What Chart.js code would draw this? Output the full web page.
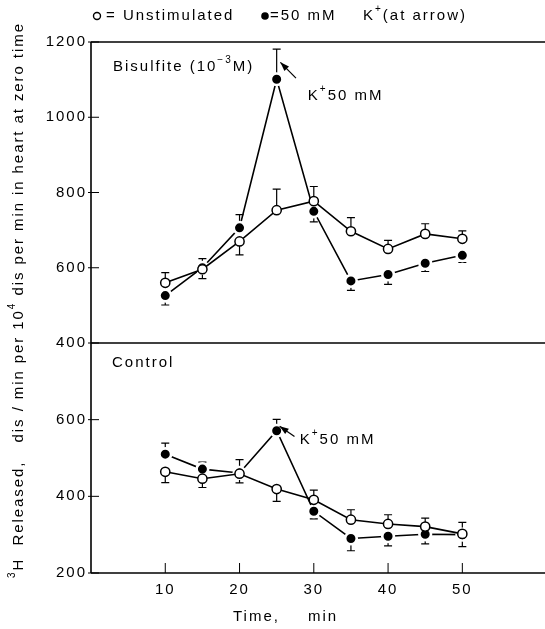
<!DOCTYPE html>
<html><head><meta charset="utf-8">
<script src="https://cdn.jsdelivr.net/npm/chart.js@4"></script>
<style>html,body{margin:0;padding:0;background:#fff;}#wrap{width:545px;height:629px;}</style>
</head><body><div id="wrap"><canvas id="c" width="545" height="629"></canvas></div>
<script>
// ---- data ----
const times = [10, 15, 20, 25, 30, 35, 40, 45, 50];
// Bisulfite panel (top)
const bisUnstim      = [560, 596, 670, 753, 777, 697, 650, 690, 677];
const bisUnstimErrUp = [27, 28, 0, 56, 39, 36, 23, 27, 21];
const bisUnstimErrDn = [0, 25, 36, 0, 0, 0, 0, 0, 0];
const bisK           = [526, 600, 706, 1101, 750, 565, 582, 612, 633];
const bisKErrUp      = [0, 0, 35, 80, 0, 0, 0, 0, 0];
const bisKErrDn      = [25, 0, 0, 0, 28, 25, 26, 22, 19];
// Control panel (bottom)
const ctlUnstim      = [464, 446, 459, 419, 391, 339, 328, 321, 302];
const ctlUnstimErrUp = [0, 0, 37, 0, 25, 26, 24, 22, 30];
const ctlUnstimErrDn = [28, 23, 24, 32, 0, 0, 0, 0, 33];
const ctlK           = [510, 471, 461, 571, 361, 290, 296, 301, 300];
const ctlKErrUp      = [29, 18, 0, 30, 0, 0, 0, 0, 0];
const ctlKErrDn      = [0, 0, 0, 0, 20, 32, 25, 25, 0];
// axes
const xTicks = [10, 20, 30, 40, 50];
const topTicks = [400, 600, 800, 1000, 1200];
const botTicks = [200, 400, 600];

const FONT = '"Liberation Sans", Arial, sans-serif';
const LS = '2px';
const pts = (ys) => times.map((t, i) => ({x: t, y: ys[i]}));

const openStyle = {
  borderColor: '#000', borderWidth: 1.6, backgroundColor: '#fff',
  pointRadius: 4.6, pointBackgroundColor: '#fff', pointBorderColor: '#000',
  pointBorderWidth: 1.5, tension: 0, fill: false
};
const fillStyle = {
  borderColor: '#000', borderWidth: 1.6, backgroundColor: '#000',
  pointRadius: 5.8, pointBackgroundColor: '#000', pointBorderColor: '#fff',
  pointBorderWidth: 2.6, tension: 0, fill: false
};

const datasets = [
  Object.assign({label: 'bisU', data: pts(bisUnstim), yAxisID: 'yTop', errUp: bisUnstimErrUp, errDn: bisUnstimErrDn}, openStyle),
  Object.assign({label: 'ctlU', data: pts(ctlUnstim), yAxisID: 'yBot', errUp: ctlUnstimErrUp, errDn: ctlUnstimErrDn}, openStyle),
  Object.assign({label: 'bisK', data: pts(bisK), yAxisID: 'yTop', errUp: bisKErrUp, errDn: bisKErrDn}, fillStyle),
  Object.assign({label: 'ctlK', data: pts(ctlK), yAxisID: 'yBot', errUp: ctlKErrUp, errDn: ctlKErrDn}, fillStyle)
];

function richText(ctx, parts, x, y, size) {
  let cx = x;
  for (const p of parts) {
    const s = p.sup ? Math.round(size * 0.68) : size;
    ctx.font = s + 'px ' + FONT;
    ctx.fillText(p.t, cx, p.sup ? y - size * 0.42 : y);
    cx += ctx.measureText(p.t).width;
  }
  return cx - x;
}
function richWidth(ctx, parts, size) {
  let w = 0;
  for (const p of parts) {
    const s = p.sup ? Math.round(size * 0.68) : size;
    ctx.font = s + 'px ' + FONT;
    w += ctx.measureText(p.t).width;
  }
  return w;
}
function arrow(ctx, x1, y1, x2, y2) {
  ctx.beginPath(); ctx.moveTo(x1, y1); ctx.lineTo(x2, y2); ctx.lineWidth = 1.2; ctx.stroke();
  const a = Math.atan2(y2 - y1, x2 - x1), L = 9, W = 3.2;
  ctx.beginPath();
  ctx.moveTo(x2, y2);
  ctx.lineTo(x2 - L * Math.cos(a) + W * Math.sin(a), y2 - L * Math.sin(a) - W * Math.cos(a));
  ctx.lineTo(x2 - L * Math.cos(a) - W * Math.sin(a), y2 - L * Math.sin(a) + W * Math.cos(a));
  ctx.closePath(); ctx.fill();
}

const decor = {
  id: 'decor',
  beforeLayout(chart) { chart.ctx.letterSpacing = LS; },
  beforeDraw(chart) { chart.ctx.letterSpacing = LS; },
  beforeDatasetsDraw(chart) {
    const ctx = chart.ctx, xs = chart.scales.x;
    ctx.save();
    ctx.strokeStyle = '#000'; ctx.lineWidth = 1.2;
    chart.data.datasets.forEach((ds) => {
      const ys = chart.scales[ds.yAxisID];
      ds.data.forEach((p, i) => {
        const px = xs.getPixelForValue(p.x);
        const segs = [];
        if (ds.errUp[i]) segs.push(p.y + ds.errUp[i]);
        if (ds.errDn[i]) segs.push(p.y - ds.errDn[i]);
        segs.forEach((v) => {
          const y0 = ys.getPixelForValue(p.y), y1 = ys.getPixelForValue(v);
          ctx.beginPath(); ctx.moveTo(px, y0); ctx.lineTo(px, y1);
          ctx.moveTo(px - 4, y1); ctx.lineTo(px + 4, y1); ctx.stroke();
        });
      });
    });
    ctx.restore();
  },
  afterDraw(chart) {
    const ctx = chart.ctx, xs = chart.scales.x, yt = chart.scales.yTop, yb = chart.scales.yBot;
    const ca = chart.chartArea;
    ctx.save();
    ctx.letterSpacing = LS;
    ctx.strokeStyle = '#000'; ctx.fillStyle = '#000';
    // frame lines
    ctx.lineWidth = 1.6;
    const yTopLine = yt.getPixelForValue(1200), yMid = yt.getPixelForValue(400), yBottom = yb.getPixelForValue(200);
    [yTopLine, yMid, yBottom].forEach((y) => { ctx.beginPath(); ctx.moveTo(ca.left, y); ctx.lineTo(chart.width, y); ctx.stroke(); });
    ctx.beginPath(); ctx.moveTo(ca.left, yTopLine); ctx.lineTo(ca.left, yBottom); ctx.stroke();
    // inward ticks
    ctx.lineWidth = 1;
    topTicks.forEach((v) => { const y = yt.getPixelForValue(v); ctx.beginPath(); ctx.moveTo(ca.left - 3, y); ctx.lineTo(ca.left + 8, y); ctx.stroke(); });
    botTicks.forEach((v) => { const y = yb.getPixelForValue(v); ctx.beginPath(); ctx.moveTo(ca.left - 3, y); ctx.lineTo(ca.left + 8, y); ctx.stroke(); });
    xTicks.forEach((v) => { const x = xs.getPixelForValue(v); ctx.beginPath(); ctx.moveTo(x, yBottom); ctx.lineTo(x, yBottom - 10); ctx.stroke(); });

    ctx.textBaseline = 'middle'; ctx.textAlign = 'left';
    // panel labels
    richText(ctx, [{t: 'Bisulfite (10'}, {t: '\u22123', sup: true}, {t: 'M)'}], ca.left + 22, yTopLine + 25, 15);
    richText(ctx, [{t: 'Control'}], ca.left + 21, yMid + 20, 15);
    // K+ annotations
    arrow(ctx, xs.getPixelForValue(27.6), yt.getPixelForValue(1104), xs.getPixelForValue(25.5), yt.getPixelForValue(1146));
    richText(ctx, [{t: 'K'}, {t: '+', sup: true}, {t: '50 mM'}], xs.getPixelForValue(29.2), yt.getPixelForValue(1058), 15);
    arrow(ctx, xs.getPixelForValue(27.4), yb.getPixelForValue(556), xs.getPixelForValue(25.4), yb.getPixelForValue(583));
    richText(ctx, [{t: 'K'}, {t: '+', sup: true}, {t: '50 mM'}], xs.getPixelForValue(28.1), yb.getPixelForValue(547), 15);

    // legend
    ctx.lineWidth = 1.4;
    ctx.beginPath(); ctx.arc(97, 16, 3.5, 0, Math.PI * 2); ctx.stroke();
    richText(ctx, [{t: '= Unstimulated'}], 106, 16, 15);
    ctx.beginPath(); ctx.arc(265, 16, 3.8, 0, Math.PI * 2); ctx.fill();
    richText(ctx, [{t: '=50 mM'}], 270, 16, 15);
    richText(ctx, [{t: 'K'}, {t: '+', sup: true}, {t: '(at arrow)'}], 363, 16, 15);

    // x title
    richText(ctx, [{t: 'Time,'}], 233, 617, 15);
    richText(ctx, [{t: 'min'}], 308, 617, 15);

    // y title (rotated), stretched to span the reference length
    const yParts = [{t: '3', sup: true}, {t: 'H  Released,'}, {t: '   dis / min per 10'}, {t: '4', sup: true}, {t: ' dis per min in heart at zero time'}];
    ctx.save();
    ctx.translate(19, 300);
    ctx.rotate(-Math.PI / 2);
    ctx.letterSpacing = '0px';
    const w0 = richWidth(ctx, yParts, 15);
    const n = yParts.reduce((a, p) => a + p.t.length, 0);
    const target = 556;
    const sp = Math.max(0, (target - w0) / n);
    ctx.letterSpacing = sp.toFixed(2) + 'px';
    const w = richWidth(ctx, yParts, 15);
    richText(ctx, yParts, -w / 2, 0, 15);
    ctx.restore();
    ctx.restore();
  }
};

const tickFont = {family: FONT, size: 15};
new Chart(document.getElementById('c'), {
  type: 'line',
  data: {datasets},
  options: {
    responsive: false, devicePixelRatio: 1, animation: false,
    layout: {padding: {top: 42, right: 0, left: 0, bottom: 0}},
    plugins: {legend: {display: false}, tooltip: {enabled: false}},
    scales: {
      x: {
        type: 'linear', min: 0, max: 60, position: 'bottom',
        grid: {display: false, drawTicks: false, tickLength: 0}, border: {display: false},
        afterBuildTicks: (s) => { s.ticks = xTicks.map((v) => ({value: v})); },
        ticks: {color: '#000', font: tickFont, padding: 8, maxRotation: 0, callback: (v) => String(v)},
        afterFit: (s) => { s.height = 56; s.paddingRight = 0; s.paddingLeft = 0; }
      },
      yBot: {
        type: 'linear', min: 200, max: 800, position: 'left', stack: 'v', stackWeight: 230,
        grid: {display: false, drawTicks: false, tickLength: 0}, border: {display: false},
        afterBuildTicks: (s) => { s.ticks = botTicks.map((v) => ({value: v})); },
        ticks: {color: '#000', font: tickFont, padding: 4, callback: (v) => String(v)},
        afterFit: (s) => { s.width = 91; s.paddingTop = 0; s.paddingBottom = 0; }
      },
      yTop: {
        type: 'linear', min: 400, max: 1200, position: 'left', stack: 'v', stackWeight: 301,
        grid: {display: false, drawTicks: false, tickLength: 0}, border: {display: false},
        afterBuildTicks: (s) => { s.ticks = topTicks.map((v) => ({value: v})); },
        ticks: {color: '#000', font: tickFont, padding: 4, callback: (v) => String(v)},
        afterFit: (s) => { s.width = 91; s.paddingTop = 0; s.paddingBottom = 0; }
      }
    }
  },
  plugins: [decor]
});
</script></body></html>
